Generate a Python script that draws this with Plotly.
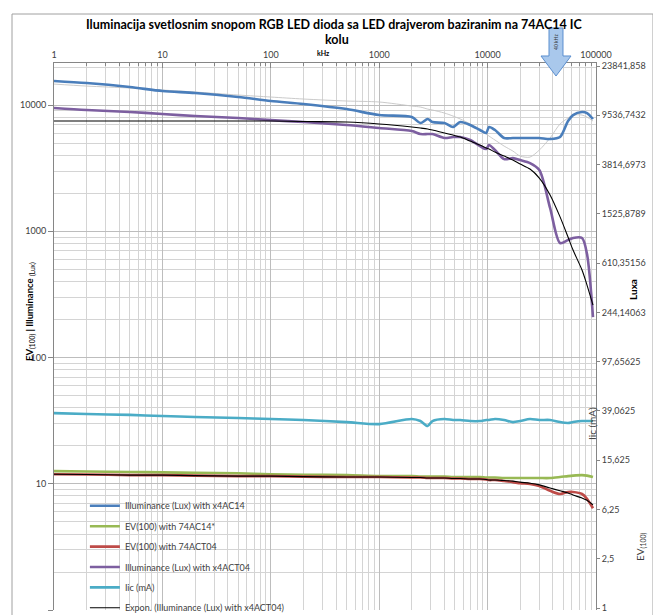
import plotly.graph_objects as go

# ---------------- data ----------------
freq_khz = [1, 2, 5, 10, 20, 50, 100, 200, 500, 1000, 2000, 2400, 2800, 3100, 4000, 4800,
            5600, 6900, 8500, 9700, 10300, 11700, 14200, 17100, 20000, 24600, 30000, 37700,
            46600, 55200, 61400, 74300, 82600, 93800]

lux_ac14 = [15500, 14930, 13890, 12920, 12450, 11570, 10760, 10190, 9290, 8330, 8030, 7200,
            7750, 7330, 7200, 6700, 7330, 6950, 6340, 6000, 6700, 6340, 5480, 5480, 5480,
            5480, 5480, 5380, 5580, 7470, 8330, 8810, 8640, 7750]

ev_ac14 = [12.6, 12.5, 12.4, 12.3, 12.2, 12.1, 11.9, 11.8, 11.7, 11.5, 11.5, 11.4, 11.4, 11.4,
           11.4, 11.3, 11.3, 11.3, 11.3, 11.2, 11.2, 11.2, 11.1, 11.1, 11.1, 11.1, 11.1, 11.1,
           11.3, 11.5, 11.6, 11.7, 11.6, 11.3]

ev_act04 = [11.9, 11.85, 11.7, 11.7, 11.6, 11.5, 11.5, 11.4, 11.3, 11.3, 11.2, 11.2, 11.1, 11.1,
            11.1, 11.0, 11.0, 10.9, 10.9, 10.8, 10.7, 10.7, 10.5, 10.3, 10.1, 9.95, 9.6, 8.8,
            8.3, 8.6, 8.6, 8.3, 7.6, 6.4]

lux_act04 = [9470, 9130, 8810, 8490, 8180, 7890, 7600, 7330, 6950, 6580, 6220, 5890, 5890, 5890,
             5480, 5580, 5580, 5280, 4730, 4480, 4820, 4400, 3730, 3800, 3665, 3470, 3055, 1530,
             807, 853, 885, 885, 660, 209]

ic_ma = [36.3, 35.7, 35.1, 34.4, 33.8, 33.2, 32.6, 32.0, 30.8, 29.7, 32.6, 31.4, 28.7, 31.4,
         32.6, 32.0, 32.0, 31.4, 31.4, 32.0, 32.0, 32.6, 32.0, 30.8, 31.4, 32.6, 32.0, 32.0,
         30.8, 30.3, 30.8, 31.4, 31.4, 31.4]

expon_lux_act04 = [7470, 7470, 7470, 7470, 7470, 7470, 7470, 7400, 7330, 7080, 6700, 6580, 6460,
                   6340, 6000, 5780, 5580, 5190, 4820, 4560, 4480, 4240, 3940, 3665, 3410, 3110,
                   2640, 1940, 1300, 900, 710, 493, 375, 260]

trend_lux_ac14 = [14660, 14130, 13640, 13150, 12680, 12000, 11570, 11160, 10760, 10570, 9820,
                  9640, 9290, 9130, 8640, 8180, 7750, 7080, 6340, 5890, 5680, 5280, 4730, 4320,
                  3940, 3870, 4400, 5480, 7080, 7890, 8330, 8330, 8030, 7470]

expon_ev_act04 = [11.9, 11.85, 11.7, 11.7, 11.6, 11.5, 11.5, 11.4, 11.3, 11.3, 11.2, 11.2, 11.1,
                  11.1, 11.1, 11.0, 11.0, 10.9, 10.9, 10.8, 10.7, 10.7, 10.6, 10.5, 10.3, 10.1,
                  9.8, 9.25, 8.8, 8.45, 8.15, 7.7, 7.4, 6.8]

x_tick_vals = [1, 10, 100, 1000, 10000, 100000]
x_tick_text = ["1", "10", "100", "1000", "10000", "100000"]
left_tick_vals = [1, 10, 100, 1000, 10000]
left_tick_text = ["1", "10", "100", "1000", "10000"]
right_tick_vals = [1, 2.5, 6.25, 15.625, 39.0625, 97.65625, 244.140625, 610.3515625,
                   1525.87890625, 3814.697265625, 9536.7431640625, 23841.857910156]
right_tick_text = ["1", "2,5", "6,25", "15,625", "39,0625", "97,65625", "244,14063",
                   "610,35156", "1525,8789", "3814,6973", "9536,7432", "23841,858"]

# ---------------- figure ----------------
FONT = "Lato"
TXT = "#404040"

fig = go.Figure()

def add(y, name, color, width=2.6, show=True, group=None):
    fig.add_trace(go.Scatter(
        x=freq_khz, y=y, name=name, mode="lines",
        line=dict(color=color, width=width, shape="spline", smoothing=0.8),
        showlegend=show, legendgroup=group if group else name,
    ))

add(trend_lux_ac14, "trend", "#c4c4c4", width=0.9, show=False, group="t1")
add(lux_ac14, "Illuminance (Lux) with x4AC14", "#4a7ebb")
add(ev_ac14, "EV(100) with 74AC14*", "#98b954")
add(ev_act04, "EV(100) with 74ACT04", "#be4b48")
add(lux_act04, "Illuminance (Lux) with x4ACT04", "#7d5fa0")
add(ic_ma, "Iic (mA)", "#4bacc6")
add(expon_lux_act04, "Expon. (Illuminance (Lux) with x4ACT04)", "#000000", width=1.1)
add(expon_ev_act04, "trend2", "#000000", width=1.1, show=False, group="t2")

# dummy trace to activate the right-hand axis
fig.add_trace(go.Scatter(x=[1], y=[1], yaxis="y2", mode="markers",
                         marker=dict(opacity=0), showlegend=False, hoverinfo="skip"))

minor_x = [m * 10 ** k for k in range(0, 5) for m in range(2, 10)]
minor_y = [m * 10 ** k for k in range(0, 5) for m in range(2, 10)]

# the page body adds an 8 px offset, so the figure is 8 px smaller and shifted
fig.update_layout(
    width=653, height=607,
    margin=dict(l=46, r=65, t=55, b=5, autoexpand=False),
    paper_bgcolor="white", plot_bgcolor="white",
    font=dict(family=FONT, size=9, color=TXT),
    showlegend=True,
    legend=dict(x=0.057, y=-0.0225, xanchor="left", yanchor="bottom",
                bgcolor="rgba(0,0,0,0)", font=dict(size=9, color=TXT),
                tracegroupgap=1.4, itemwidth=30),
    xaxis=dict(type="log", range=[0, 5], side="top", automargin=False,
               tickvals=x_tick_vals, ticktext=x_tick_text,
               ticks="inside", ticklen=5, tickcolor="#868686",
               showline=True, linecolor="#868686", linewidth=1,
               showgrid=True, gridcolor="#bdbdbd", gridwidth=1,
               minor=dict(tickvals=minor_x, showgrid=True, gridcolor="#d4d4d4",
                          ticks="inside", ticklen=3, tickcolor="#868686"),
               tickfont=dict(size=9, color=TXT), zeroline=False),
    yaxis=dict(type="log", range=[0, 4.333], automargin=False,
               tickvals=left_tick_vals, ticktext=left_tick_text,
               ticks="outside", ticklen=5, tickcolor="#868686",
               showline=True, linecolor="#868686", linewidth=1,
               showgrid=True, gridcolor="#bdbdbd", gridwidth=1,
               minor=dict(tickvals=minor_y, showgrid=True, gridcolor="#d4d4d4"),
               tickfont=dict(size=9, color=TXT), zeroline=False),
    yaxis2=dict(type="log", range=[-0.016, 4.402], overlaying="y", side="right",
                automargin=False,
                tickvals=right_tick_vals, ticktext=right_tick_text,
                ticks="outside", ticklen=3, tickcolor="#868686",
                showline=True, linecolor="#868686", linewidth=1,
                showgrid=False, tickfont=dict(size=9, color=TXT), zeroline=False),
)

def px2paper(px, py):
    return (px - 54) / 542.0, (610 - py) / 547.0

# outer chart border
x0, y0 = px2paper(12, 14)
x1, y1 = px2paper(653, 625)
fig.add_shape(type="rect", xref="paper", yref="paper", x0=x0, y0=y1, x1=x1, y1=y0,
              line=dict(color="#a0a0a0", width=1), fillcolor="rgba(0,0,0,0)", layer="below")

# blue arrow marker
pts = [(549, 28), (563, 28), (563, 56), (571, 56), (556, 76), (541, 56), (549, 56)]
path = "M " + " L ".join("%.4f,%.4f" % px2paper(a, b) for a, b in pts) + " Z"
fig.add_shape(type="path", xref="paper", yref="paper", path=path,
              fillcolor="#a9c8ec", line=dict(color="#5b8fcf", width=1))

ann = []
def note(text, px, py, size=9, angle=0, bold=False, color=TXT, xanchor="center"):
    xp, yp = px2paper(px, py)
    t = "<b>%s</b>" % text if bold else text
    ann.append(dict(text=t, x=xp, y=yp, xref="paper", yref="paper", showarrow=False,
                    textangle=angle, font=dict(size=size, color=color, family=FONT),
                    xanchor=xanchor, yanchor="middle"))

note("40 kHz", 556, 42, size=5, angle=-90, color="#333333")
note("Iluminacija svetlosnim snopom RGB LED dioda sa LED drajverom baziranim na 74AC14 IC",
     334, 24, size=12.5, bold=True, color="#000000")
note("kolu", 337, 40, size=12.5, bold=True, color="#000000")
note("kHz", 323, 53, size=7, bold=True, color="#000000")
note("<b>EV</b><sub>(100)</sub><b> | Illuminance </b><sub>(Lux)</sub>", 30, 312, size=9.5,
     angle=-90, color="#000000")
note("Luxa", 633, 290, size=10, angle=-90, bold=True, color="#000000")
note("Iic (mA)", 592, 424, size=10, angle=-90, color=TXT)
note("EV<sub>(100)</sub>", 641, 547, size=10, angle=-90, color=TXT)
fig.update_layout(annotations=ann)

fig.write_html("out.html")
